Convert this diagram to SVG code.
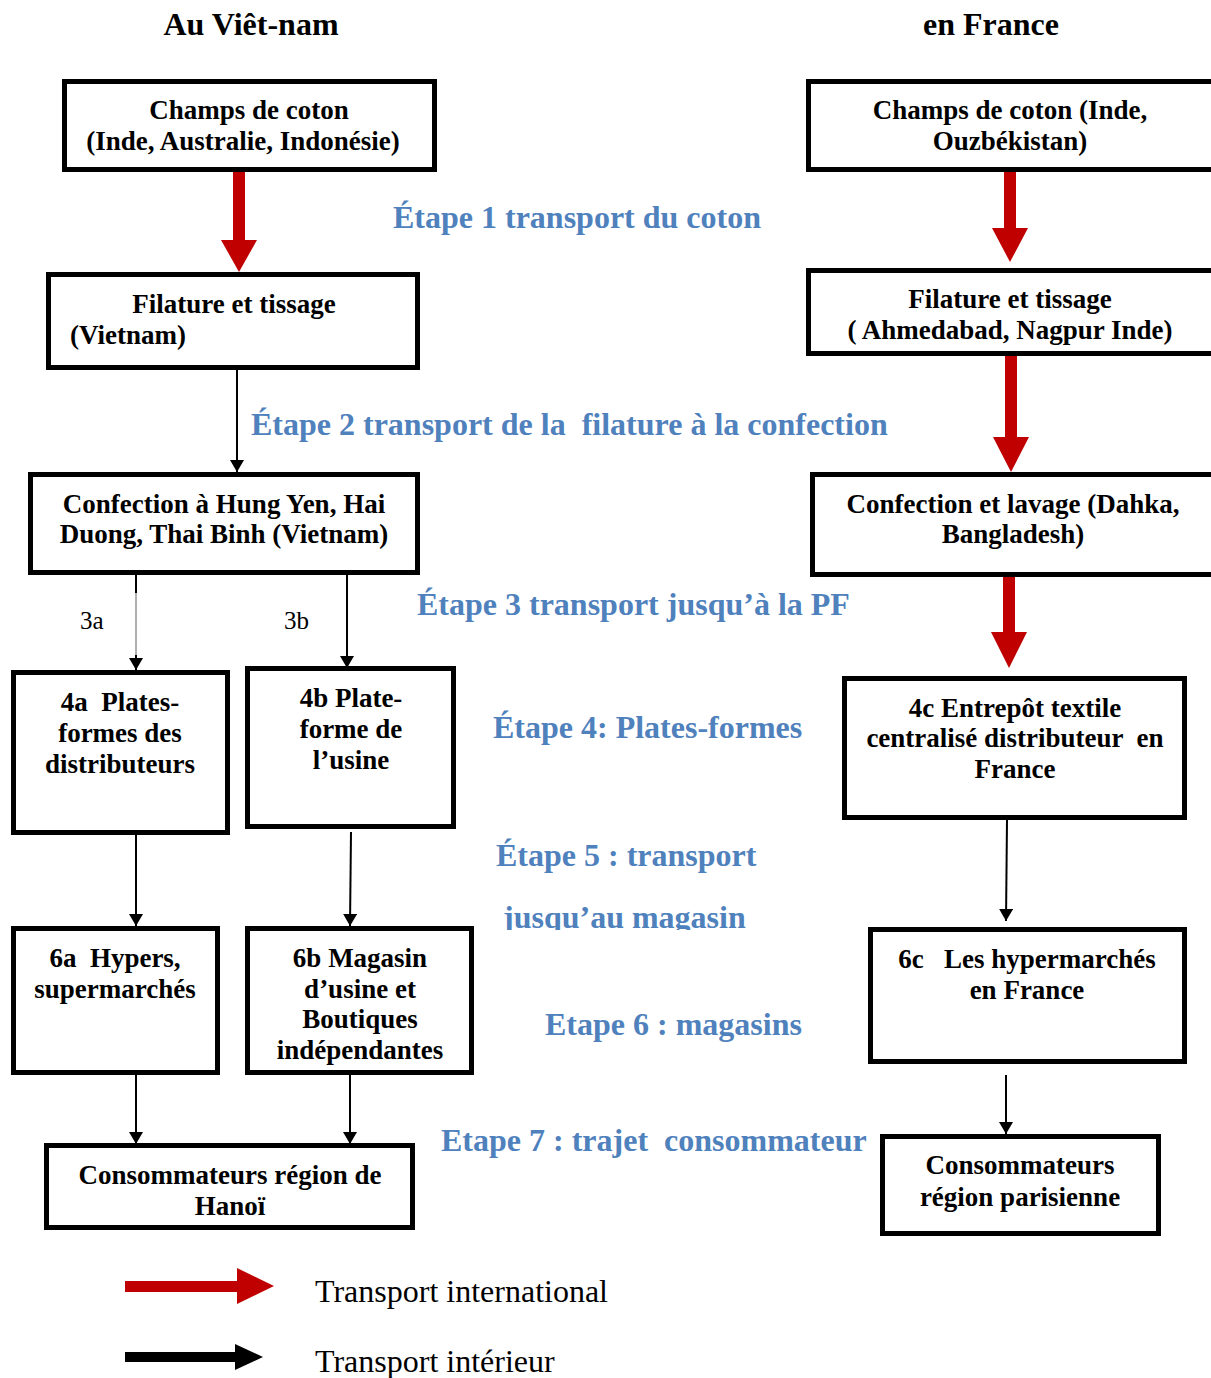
<svg xmlns="http://www.w3.org/2000/svg" width="1211" height="1378" viewBox="0 0 1211 1378">
<style>
.box{fill:#fff;stroke:#000;stroke-width:5}
.bt{font-family:"Liberation Serif",serif;font-weight:bold;font-size:27px;text-anchor:middle;fill:#000}
.hd{font-family:"Liberation Serif",serif;font-weight:bold;font-size:32px;text-anchor:middle;fill:#000}
.st{font-family:"Liberation Serif",serif;font-weight:bold;font-size:32px;fill:#4f81bd}
.lg{font-family:"Liberation Serif",serif;font-size:32px;fill:#000}
.sm{font-family:"Liberation Serif",serif;font-size:25px;fill:#000}
.bl{stroke:#000;stroke-width:2;fill:none}
.red{fill:#c00000}
</style>
<defs>
<marker id="ah" markerWidth="12" markerHeight="14" refX="12" refY="7" orient="auto" markerUnits="userSpaceOnUse" viewBox="0 0 12 14">
<path d="M0,0 L12,7 L0,14 Z" fill="#000"/>
</marker>
<clipPath id="clip5"><rect x="480" y="880" width="320" height="50"/></clipPath>
</defs>
<rect width="1211" height="1378" fill="#fff"/>

<text class="hd" x="251" y="35">Au Viêt-nam</text>
<text class="hd" x="991" y="35">en France</text>

<g id="labels">
<text class="st" x="393" y="228">Étape 1 transport du coton</text>
<text class="st" x="251" y="435" xml:space="preserve">Étape 2 transport de la  filature à la confection</text>
<text class="st" x="417" y="615">Étape 3 transport jusqu’à la PF</text>
<text class="st" x="493" y="738">Étape 4: Plates-formes</text>
<text class="st" x="496" y="866">Étape 5 : transport</text>
<text class="st" x="503" y="928" clip-path="url(#clip5)">jusqu’au magasin</text>
<text class="st" x="545" y="1035">Etape 6 : magasins</text>
<text class="st" x="441" y="1151" xml:space="preserve">Etape 7 : trajet  consommateur</text>
<text class="sm" x="80" y="629">3a</text>
<text class="sm" x="284" y="629">3b</text>
</g>

<g id="connectors">
<path class="red" d="M233,172 H245 V240 H257 L239,272 L221,240 H233 Z"/>
<path class="red" d="M1004,172 H1016 V228 H1028 L1010,262 L992,228 H1004 Z"/>
<path class="red" d="M1005,356 H1017 V437 H1029 L1011,472 L993,437 H1005 Z"/>
<path class="red" d="M1003,577 H1015 V632 H1027 L1009,668 L991,632 H1003 Z"/>
<line class="bl" x1="237" y1="370" x2="237" y2="472" marker-end="url(#ah)"/>
<line class="bl" x1="136" y1="575" x2="136" y2="593"/>
<line x1="136" y1="593" x2="136" y2="662" stroke="#b0b0b0" stroke-width="2"/>
<line class="bl" x1="136" y1="655" x2="136" y2="670" marker-end="url(#ah)"/>
<line class="bl" x1="347" y1="575" x2="347" y2="668" marker-end="url(#ah)"/>
<line class="bl" x1="136" y1="835" x2="136" y2="926" marker-end="url(#ah)"/>
<line class="bl" x1="351" y1="832" x2="350" y2="926" marker-end="url(#ah)"/>
<line class="bl" x1="136" y1="1075" x2="136" y2="1144" marker-end="url(#ah)"/>
<line class="bl" x1="350" y1="1075" x2="350" y2="1144" marker-end="url(#ah)"/>
<line class="bl" x1="1007" y1="820" x2="1006" y2="921" marker-end="url(#ah)"/>
<line class="bl" x1="1006" y1="1075" x2="1006" y2="1134" marker-end="url(#ah)"/>
</g>

<g id="n-vn-champs">
<rect class="box" x="64.5" y="81.5" width="370" height="88"/>
<text class="bt" x="249" y="119">Champs de coton</text>
<text class="bt" x="243" y="150">(Inde, Australie, Indonésie)</text>
</g>
<g id="n-vn-filature">
<rect class="box" x="48.5" y="274.5" width="369" height="93"/>
<text class="bt" x="234" y="313">Filature et tissage</text>
<text class="bt" x="70" y="344" style="text-anchor:start">(Vietnam)</text>
</g>
<g id="n-vn-confection">
<rect class="box" x="30.5" y="474.5" width="387" height="98"/>
<text class="bt" x="224" y="513">Confection à Hung Yen, Hai</text>
<text class="bt" x="224" y="543">Duong, Thai Binh (Vietnam)</text>
</g>
<g id="n-4a">
<rect class="box" x="13.5" y="672.5" width="214" height="160"/>
<text class="bt" x="120" y="711" xml:space="preserve">4a  Plates-</text>
<text class="bt" x="120" y="742">formes des</text>
<text class="bt" x="120" y="773">distributeurs</text>
</g>
<g id="n-4b">
<rect class="box" x="247.5" y="668.5" width="206" height="158"/>
<text class="bt" x="351" y="707">4b Plate-</text>
<text class="bt" x="351" y="738">forme de</text>
<text class="bt" x="351" y="769">l’usine</text>
</g>
<g id="n-6a">
<rect class="box" x="13.5" y="928.5" width="204" height="144"/>
<text class="bt" x="115" y="967" xml:space="preserve">6a  Hypers,</text>
<text class="bt" x="115" y="998">supermarchés</text>
</g>
<g id="n-6b">
<rect class="box" x="247.5" y="928.5" width="224" height="144"/>
<text class="bt" x="360" y="967">6b Magasin</text>
<text class="bt" x="360" y="998">d’usine et</text>
<text class="bt" x="360" y="1028">Boutiques</text>
<text class="bt" x="360" y="1059">indépendantes</text>
</g>
<g id="n-hanoi">
<rect class="box" x="46.5" y="1145.5" width="366" height="82"/>
<text class="bt" x="230" y="1184">Consommateurs région de</text>
<text class="bt" x="230" y="1215">Hanoï</text>
</g>

<g id="n-fr-champs">
<rect class="box" x="808.5" y="81.5" width="410" height="88"/>
<text class="bt" x="1010" y="119">Champs de coton (Inde,</text>
<text class="bt" x="1010" y="150">Ouzbékistan)</text>
</g>
<g id="n-fr-filature">
<rect class="box" x="808.5" y="270.5" width="410" height="83"/>
<text class="bt" x="1010" y="308">Filature et tissage</text>
<text class="bt" x="1010" y="339">( Ahmedabad, Nagpur Inde)</text>
</g>
<g id="n-fr-confection">
<rect class="box" x="812.5" y="474.5" width="406" height="100"/>
<text class="bt" x="1013" y="513">Confection et lavage (Dahka,</text>
<text class="bt" x="1013" y="543">Bangladesh)</text>
</g>
<g id="n-4c">
<rect class="box" x="844.5" y="678.5" width="340" height="139"/>
<text class="bt" x="1015" y="717">4c Entrepôt textile</text>
<text class="bt" x="1015" y="747" xml:space="preserve">centralisé distributeur  en</text>
<text class="bt" x="1015" y="778">France</text>
</g>
<g id="n-6c">
<rect class="box" x="870.5" y="929.5" width="314" height="132"/>
<text class="bt" x="1027" y="968" xml:space="preserve">6c   Les hypermarchés</text>
<text class="bt" x="1027" y="999">en France</text>
</g>
<g id="n-paris">
<rect class="box" x="882.5" y="1136.5" width="276" height="97"/>
<text class="bt" x="1020" y="1174">Consommateurs</text>
<text class="bt" x="1020" y="1206">région parisienne</text>
</g>

<g id="legend">
<path class="red" d="M125,1281 H237 V1268 L274,1286 L237,1304 V1292 H125 Z"/>
<path d="M125,1352 H235 V1344 L263,1357 L235,1370 V1362 H125 Z" fill="#000"/>
<text class="lg" x="315" y="1302">Transport international</text>
<text class="lg" x="315" y="1372">Transport intérieur</text>
</g>
</svg>
